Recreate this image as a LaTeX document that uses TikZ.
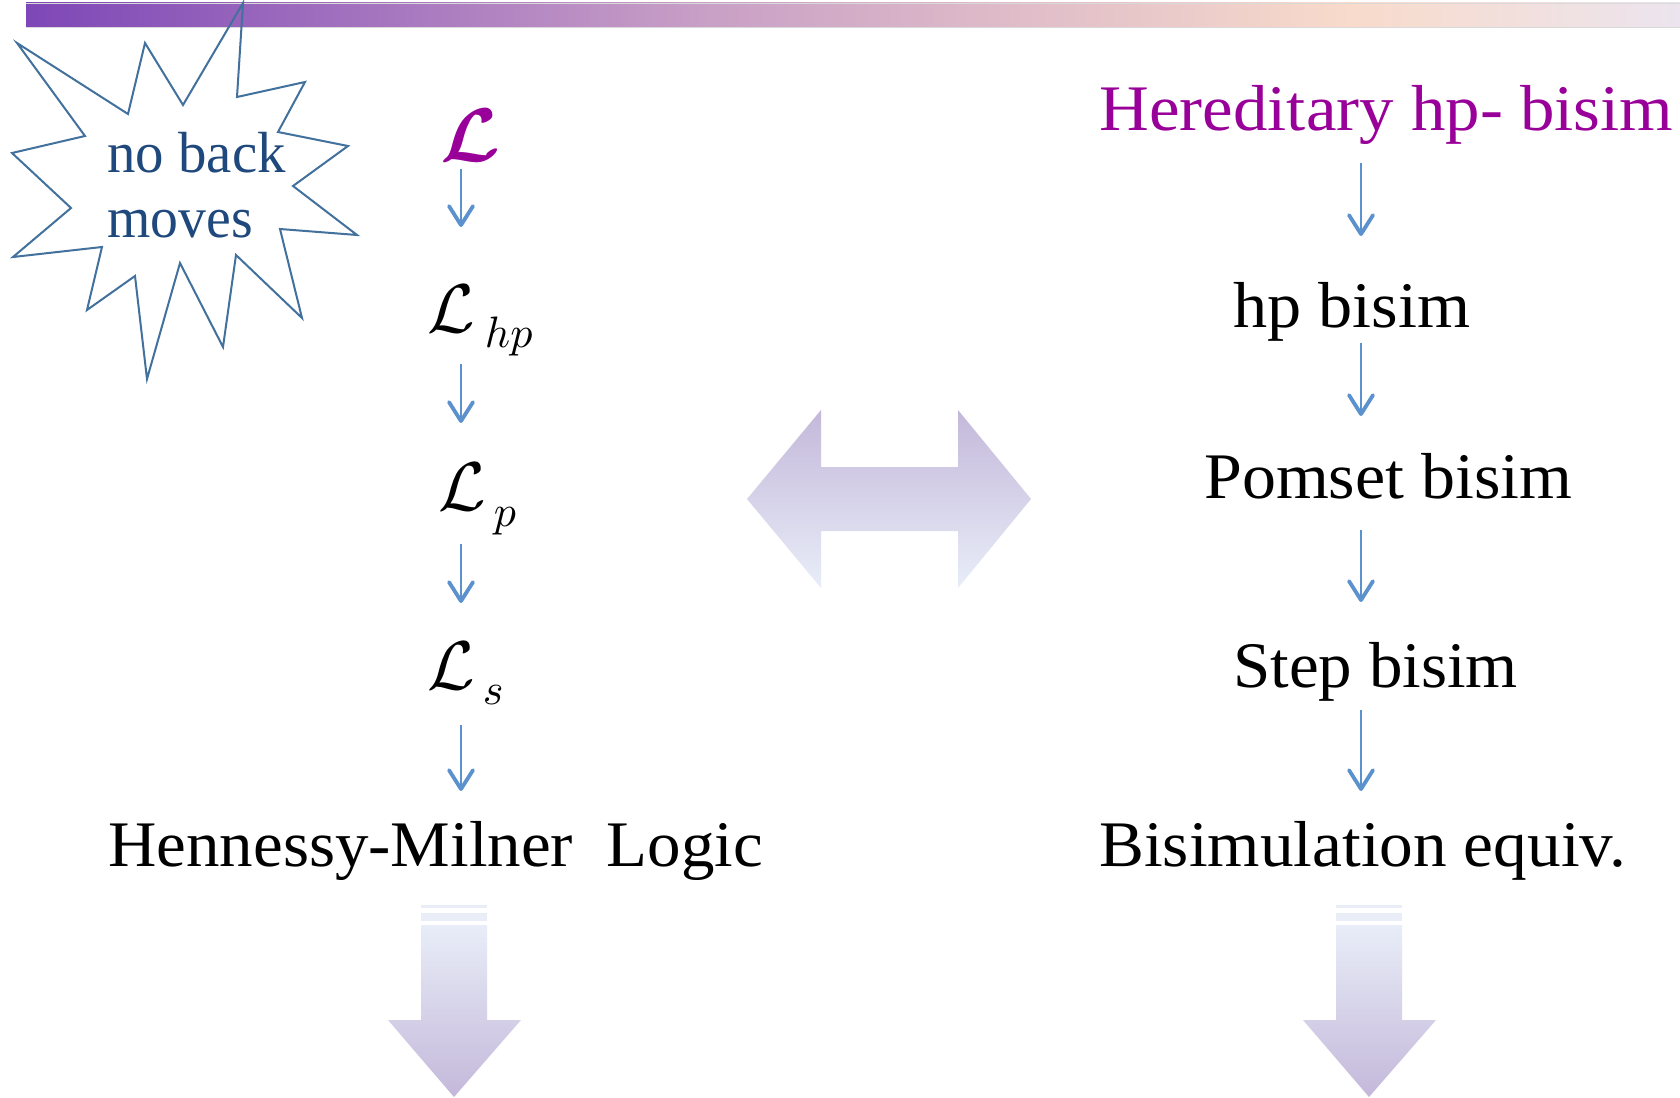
\documentclass[tikz,border=0pt]{standalone}
\usepackage{bm}
\usepackage{graphicx}
\usepackage{fontspec}
\setmainfont{Liberation Serif}
\usetikzlibrary{arrows.meta}
\definecolor{barA}{HTML}{7E47B7}
\definecolor{barB}{HTML}{C89FC6}
\definecolor{barC}{HTML}{F8DBCB}
\definecolor{barD}{HTML}{ECE4EE}
\definecolor{starblue}{HTML}{41719C}
\definecolor{navy}{HTML}{1F497D}
\definecolor{plum}{HTML}{990099}
\definecolor{flowblue}{HTML}{5B92CE}
\definecolor{fadeP}{HTML}{C4B8DA}
\definecolor{fadeM}{HTML}{CCDBF4}
\definecolor{fadeL}{HTML}{E8EDF8}
\newcommand{\bigL}{\scalebox{3.45}{$\mathcal{L}$}}
\newcommand{\subtxt}[1]{\scalebox{2.2}{$#1$}}
\newcommand{\wide}[2]{\scalebox{#1}[1]{#2}}
\begin{document}
\begin{tikzpicture}[x=0.5pt,y=-0.5pt,
  txt/.style={anchor=base west,inner sep=0pt,font=\fontsize{32.5}{38}\selectfont},
  mth/.style={anchor=base west,inner sep=0pt},
  burst/.style={anchor=base west,inner sep=0pt,text=navy,font=\fontsize{29}{34}\selectfont},
  flow/.style={draw=flowblue,line width=1.3pt,-{Straight Barb[length=9.5pt,width=12pt,line width=1.9pt,round]}},
  starline/.style={draw=starblue,line width=1pt,line join=miter},
  bigarrow/.style={top color=fadeP,middle color=fadeM,bottom color=fadeL},
  downarrow/.style={top color=fadeL,middle color=fadeM,bottom color=fadeP},
]
\useasboundingbox (0,0) rectangle (1680,1097);
\fill[white] (0,0) rectangle (1680,1097);

% top bar
\shade[left color=barA,right color=barB] (26,3) rectangle (701,27);
\shade[left color=barB,right color=barC] (700,3) rectangle (1351,27);
\shade[left color=barC,right color=barD] (1350,3) rectangle (1680,27);
\draw[black!15,line width=0.4pt] (26,3) -- (1680,3) (26,27) -- (1680,27);

% star
\draw[starline] (17,43) -- (128,114) -- (145,43) -- (183,105) -- (243,3) -- (237,97)
  -- (305,82) -- (278,132) -- (348,146) -- (293,186) -- (357,235) -- (280,229)
  -- (302,318) -- (236,255) -- (223,347) -- (180,263) -- (147,379) -- (135,276)
  -- (87,310) -- (102,247) -- (13,257) -- (71,208) -- (12,153) -- (85,136) -- cycle;
\node[burst] (nb1) at (107,172) {\wide{0.98}{no back}};
\node[burst] (nb2) at (107,237) {\wide{0.96}{moves}};

% left column
\node[mth,text=plum] (L0) at (440,162) {\scalebox{3.8}{$\bm{\mathcal{L}}$}};
\node[mth] (Lhp) at (427,332) {\bigL\hspace{5pt}\raisebox{-7.5pt}{\subtxt{hp}}};
\node[mth] (Lp) at (438,510) {\bigL\hspace{4pt}\raisebox{-8pt}{\subtxt{p}}};
\node[mth] (Ls) at (427,689) {\bigL\hspace{4pt}\raisebox{-7.5pt}{\subtxt{s}}};
\node[txt] (HML) at (108,866) {\wide{1.03}{Hennessy-Milner\hspace{0.5em}Logic}};

\coordinate (a1t) at (461,169); \coordinate (a1b) at (461,227);
\coordinate (a2t) at (461,364); \coordinate (a2b) at (461,423);
\coordinate (a3t) at (461,544); \coordinate (a3b) at (461,603);
\coordinate (a4t) at (461,725); \coordinate (a4b) at (461,791);
\draw[flow] (a1t) -- (a1b);
\draw[flow] (a2t) -- (a2b);
\draw[flow] (a3t) -- (a3b);
\draw[flow] (a4t) -- (a4b);

% right column
\node[txt,text=plum] (Hered) at (1099,131) {\wide{1.06}{Hereditary hp- bisim}};
\node[txt] (hpb) at (1233,327) {\wide{1.05}{hp bisim}};
\node[txt] (pomb) at (1204,498) {\wide{1.045}{Pomset bisim}};
\node[txt] (stepb) at (1233,687) {\wide{1.03}{Step bisim}};
\node[txt] (bisimeq) at (1099,866) {\wide{1.035}{Bisimulation equiv.}};

\coordinate (b1t) at (1361,163); \coordinate (b1b) at (1361,236);
\coordinate (b2t) at (1361,343); \coordinate (b2b) at (1361,416);
\coordinate (b3t) at (1361,530); \coordinate (b3b) at (1361,602);
\coordinate (b4t) at (1361,710); \coordinate (b4b) at (1361,791);
\draw[flow] (b1t) -- (b1b);
\draw[flow] (b2t) -- (b2b);
\draw[flow] (b3t) -- (b3b);
\draw[flow] (b4t) -- (b4b);

% big double arrow
\shade[bigarrow] (747,499) -- (821,410) -- (821,467) -- (958,467) -- (958,410)
  -- (1031,499) -- (958,588) -- (958,531) -- (821,531) -- (821,588) -- cycle;

% down arrows
\fill[fadeL] (421,905) rectangle (487,908);
\fill[fadeL] (421,913) rectangle (487,921);
\shade[downarrow] (421,925) -- (487,925) -- (487,1020) -- (521,1020) -- (454,1097)
  -- (388,1020) -- (421,1020) -- cycle;
\fill[fadeL] (1336,905) rectangle (1402,908);
\fill[fadeL] (1336,913) rectangle (1402,921);
\shade[downarrow] (1336,925) -- (1402,925) -- (1402,1020) -- (1436,1020) -- (1369,1097)
  -- (1303,1020) -- (1336,1020) -- cycle;
\end{tikzpicture}
\end{document}
